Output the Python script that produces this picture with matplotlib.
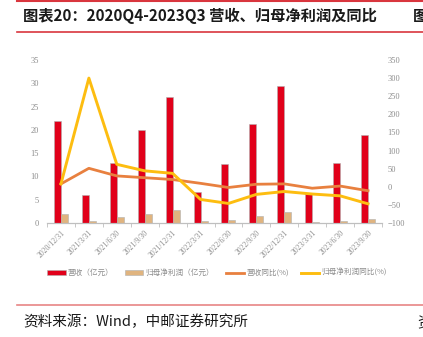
import matplotlib
matplotlib.use("Agg")
from matplotlib import pyplot as plt
import numpy as np

plt.rcParams['font.family'] = ['Noto Sans CJK SC', 'DejaVu Sans']

# 季度
dates = ['2020/12/31', '2021/3/31', '2021/6/30', '2021/9/30', '2021/12/31', '2022/3/31',
         '2022/6/30', '2022/9/30', '2022/12/31', '2023/3/31', '2023/6/30', '2023/9/30']
# 营收（亿元）
revenue = [22.0, 6.0, 12.8, 20.0, 27.0, 6.7, 12.6, 21.2, 29.5, 6.5, 12.9, 19.0]
# 归母净利润（亿元）
profit = [1.9, 0.5, 1.2, 2.0, 2.7, 0.35, 0.55, 1.4, 2.4, 0.15, 0.35, 0.8]
# 营收同比(%)
rev_yoy = [8, 51, 30, 25, 20, 9.5, -2, 7, 8, -4, 2, -11]
# 归母净利润同比(%)
profit_yoy = [8, 300, 62, 44, 37, -35, -46, -21, -13, -20, -25, -47]

red = '#e1001a'
tan = '#e0b47f'
orange = '#e8803f'
yellow = '#fdbd10'
gray = '#8c8c8c'
serif = 'Liberation Serif'

fig = plt.figure(figsize=(4.23, 3.37), dpi=100)

# 标题和红线
fig.text(23 / 423, 1 - 16 / 337, '图表20：2020Q4-2023Q3 营收、归母净利润及同比',
         fontsize=11, fontweight='bold', va='center', ha='left', color='#1a1a1a')
fig.text(413 / 423, 1 - 16 / 337, '图', fontsize=11, fontweight='bold',
         va='center', ha='left', color='#1a1a1a')
fig.add_artist(plt.Line2D([17 / 423, 1], [1 - 1 / 337, 1 - 1 / 337], color='#d9363e', lw=1.5))
fig.add_artist(plt.Line2D([17 / 423, 1], [1 - 32 / 337, 1 - 32 / 337], color='#d9363e', lw=1.2))
fig.add_artist(plt.Line2D([17 / 423, 1], [1 - 305 / 337, 1 - 305 / 337], color='#e88585', lw=1.2))
fig.text(23 / 423, 1 - 322 / 337, '资料来源：Wind，中邮证券研究所', fontsize=10.5,
         va='center', ha='left', color='#1a1a1a')
fig.text(417 / 423, 1 - 322 / 337, '资', fontsize=10.5, va='center', ha='left', color='#1a1a1a')

ax = fig.add_axes([47 / 423, 1 - 223 / 337, 335 / 423, 163 / 337])
x = np.arange(len(dates))
w = 0.25
b1 = ax.bar(x - w / 2, revenue, w, color=red, edgecolor='#b0b0b0', linewidth=0.4, label='营收（亿元）')
b2 = ax.bar(x + w / 2, profit, w, color=tan, edgecolor='#b0b0b0', linewidth=0.4, label='归母净利润（亿元）')
ax.set_ylim(0, 35)
ax.set_xlim(-0.5, len(dates) - 0.5)
ax.set_yticks(range(0, 36, 5))

ax2 = ax.twinx()
l1, = ax2.plot(x, rev_yoy, color=orange, lw=2, label='营收同比(%)')
l2, = ax2.plot(x, profit_yoy, color=yellow, lw=2.1, label='归母净利润同比(%)')
ax2.set_ylim(-100, 350)
ax2.set_yticks(range(-100, 351, 50))

for a in (ax, ax2):
    for s in ['top', 'left', 'right']:
        a.spines[s].set_visible(False)
    a.spines['bottom'].set_color('#bfbfbf')
    a.tick_params(axis='y', length=0, labelsize=6, labelcolor=gray)
    for t in a.get_yticklabels():
        t.set_fontfamily(serif)

ax.tick_params(axis='y', pad=6)
ax2.tick_params(axis='y', pad=4)
ax.set_xticks(x)
ax.set_xticklabels(dates, rotation=45, ha='right', rotation_mode='anchor',
                   fontsize=5.5, color=gray, fontfamily=serif)
ax.tick_params(axis='x', length=0, pad=4)
ax.set_xticks(np.arange(-0.5, len(dates), 1), minor=True)
ax.tick_params(axis='x', which='minor', length=3, color='#bfbfbf')

fig.legend([b1, b2, l1, l2], ['营收（亿元）', '归母净利润（亿元）', '营收同比(%)', '归母净利润同比(%)'],
           loc='center', bbox_to_anchor=(217 / 423, 1 - 273 / 337), ncol=4, frameon=False,
           fontsize=5.5, labelcolor=gray, handlelength=2.4, handleheight=0.6,
           columnspacing=1.5, handletextpad=0.3)

fig.savefig('out.png', dpi=100)
